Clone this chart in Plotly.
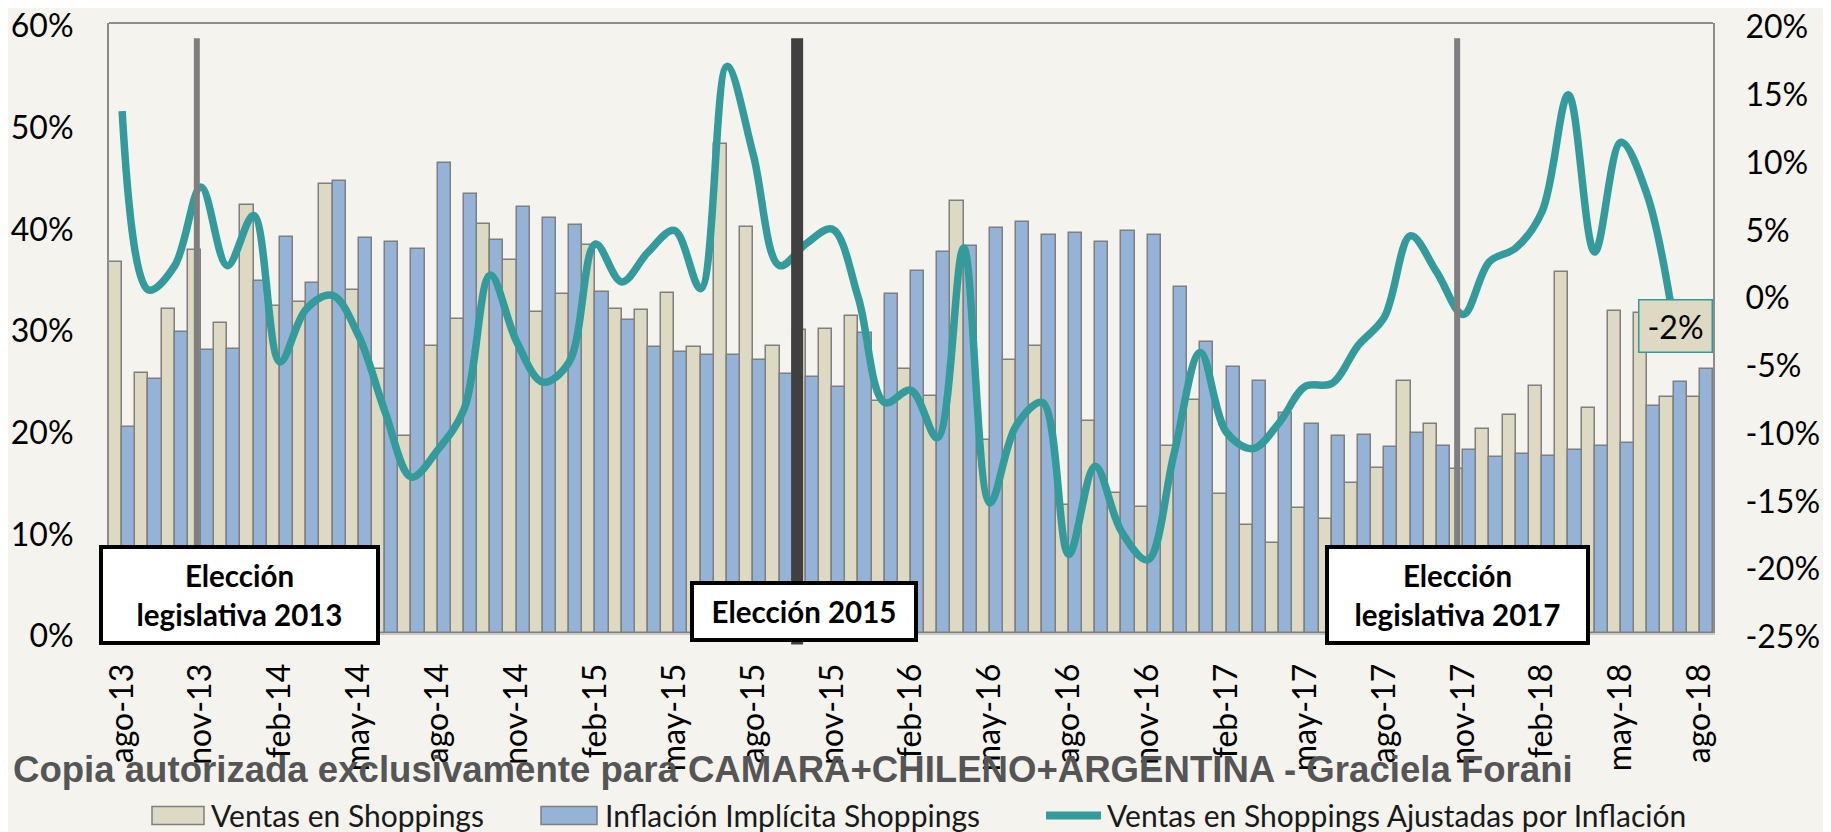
import plotly.graph_objects as go

meses = ["ene", "feb", "mar", "abr", "may", "jun", "jul", "ago", "sep", "oct", "nov", "dic"]
categorias = []
for k in range(61):
    m = (7 + k) % 12
    a = 13 + (7 + k) // 12
    categorias.append(f"{meses[m]}-{a}")

ventas = [36.5, 25.6, 31.9, 37.7, 30.5, 42.1, 32.2, 32.6, 44.2, 33.7,
          26.0, 19.4, 28.2, 30.9, 40.2, 36.7, 31.6, 33.3, 38.2, 31.9,
          31.8, 33.4, 28.1, 48.1, 39.9, 28.2, 29.8, 29.9, 31.2, 22.8,
          26.0, 23.3, 42.5, 19.0, 26.9, 28.2, 12.6, 20.9, 13.8, 12.4,
          18.4, 22.9, 13.7, 10.6, 8.9, 12.3, 11.2, 14.8, 16.2, 24.8,
          20.6, 16.1, 20.1, 21.4, 24.3, 35.5, 22.1, 31.7, 31.5, 23.2,
          23.2]

inflacion = [20.3, 25.0, 29.6, 27.8, 27.9, 34.6, 39.0, 34.4, 44.5, 38.9,
             38.5, 37.8, 46.2, 43.2, 38.7, 41.9, 40.8, 40.1, 33.5, 30.8,
             28.1, 27.6, 27.3, 27.3, 26.9, 25.5, 25.2, 24.2, 29.5, 33.3,
             35.6, 37.5, 38.1, 39.8, 40.4, 39.1, 39.3, 38.5, 39.5, 39.1,
             34.0, 28.6, 26.2, 24.8, 21.6, 20.6, 19.4, 19.5, 18.3, 19.7,
             18.4, 18.0, 17.3, 17.6, 17.4, 18.0, 18.4, 18.7, 22.3, 24.7,
             26.0]

ajustadas = [13.5, 0.3, 2.1, 7.9, 2.1, 5.8, -5.0, -1.1, -0.1, -3.1,
             -8.7, -13.5, -11.5, -8.5, 1.4, -3.5, -6.5, -5.0, 3.7, 0.9,
             3.1, 4.7, 0.4, 16.8, 10.3, 2.1, 3.7, 4.8, -0.3, -8.0,
             -7.1, -10.6, 3.4, -15.4, -9.7, -8.0, -19.2, -12.7, -17.5, -19.6,
             -11.8, -4.3, -10.2, -11.4, -9.5, -6.8, -6.6, -3.8, -1.7, 4.3,
             1.6, -1.5, 2.4, 3.4, 6.1, 14.7, 3.1, 11.2, 7.3, -2.0]

tick_labels = categorias[::3]
y_left_ticks = [0, 10, 20, 30, 40, 50, 60]
y_right_ticks = [-25, -20, -15, -10, -5, 0, 5, 10, 15, 20]

elecciones = ["Elección<br>legislativa 2013", "Elección 2015", "Elección<br>legislativa 2017"]
eleccion_x = [2.84, 25.67, 50.77]

BG = "#F4F3EE"
BEIGE = "#DDD9C3"
BLUE = "#95B3D7"
TEAL = "#339B9B"
EDGE = "#7F7F7F"
FONT = "Lato"

# page offset (body margin) compensation: figure drawn at (8, 8) in the window
OFF = 8
W, H = 1831 - OFF, 832 - OFF
PL, PR, PT, PB = 109, 1713, 23.3, 633.5   # plot area in window pixels
ML, MR, MT, MB = PL - OFF, W - (PR - OFF), PT - OFF, H - (PB - OFF)
PW = PR - PL
PH = PB - PT


def px(x):
    return (x - PL) / PW


def py(y):
    return (PB - y) / PH


fig = go.Figure()
fig.add_trace(go.Bar(x=categorias, y=ventas, name="Ventas en Shoppings",
                     marker=dict(color=BEIGE, line=dict(color=EDGE, width=1.5)),
                     showlegend=False))
fig.add_trace(go.Bar(x=categorias, y=inflacion, name="Inflación Implícita Shoppings",
                     marker=dict(color=BLUE, line=dict(color=EDGE, width=1.5)),
                     showlegend=False))
fig.add_trace(go.Scatter(x=categorias[:len(ajustadas)], y=ajustadas, yaxis="y2",
                         name="Ventas en Shoppings Ajustadas por Inflación",
                         mode="lines", line=dict(color=TEAL, width=7.5, shape="spline", smoothing=1.0),
                         showlegend=False))

shapes = []
shapes.append(dict(type="line", xref="paper", yref="paper", x0=0, x1=1, y0=1, y1=1,
                   line=dict(color="#8C8C8C", width=2)))
line_styles = [("#7F7F7F", 6, 0.0), ("#404040", 12, -0.019), ("#7F7F7F", 6, 0.0)]
for xv, (col, wd, yb) in zip(eleccion_x, line_styles):
    shapes.append(dict(type="line", xref="x", yref="paper", x0=xv, x1=xv, y0=yb, y1=0.975,
                       line=dict(color=col, width=wd), layer="above"))

# legend (manual, below the chart)
ly0, ly1 = py(825), py(807)
shapes.append(dict(type="rect", xref="paper", yref="paper", x0=px(152), x1=px(204), y0=ly0, y1=ly1,
                   fillcolor=BEIGE, line=dict(color=EDGE, width=1.5)))
shapes.append(dict(type="rect", xref="paper", yref="paper", x0=px(541), x1=px(597), y0=ly0, y1=ly1,
                   fillcolor=BLUE, line=dict(color=EDGE, width=1.5)))
shapes.append(dict(type="line", xref="paper", yref="paper", x0=px(1046), x1=px(1101), y0=py(816), y1=py(816),
                   line=dict(color=TEAL, width=8)))

annotations = []
box_specs = [(239.5, 595, 273, 92), (804, 612, 220, 53), (1457.5, 595, 257, 92)]
for txt, (cx, cy, bw, bh) in zip(elecciones, box_specs):
    annotations.append(dict(text=f"<b>{txt}</b>", xref="paper", yref="paper", x=px(cx), y=py(cy),
                            xanchor="center", yanchor="middle", showarrow=False,
                            bgcolor="white", bordercolor="black", borderwidth=4, borderpad=0,
                            width=bw, height=bh, font=dict(family=FONT, size=29.5, color="black")))

annotations.append(dict(text="-2%", xref="x", yref="y2", x=59, y=ajustadas[-1], showarrow=False,
                        xanchor="center", yanchor="middle", bgcolor=BEIGE, bordercolor=TEAL,
                        borderwidth=1.5, borderpad=0, width=72, height=51, xshift=2, yshift=-5,
                        font=dict(family=FONT, size=32, color="black")))

annotations.append(dict(text="<b>Copia autorizada exclusivamente para CAMARA+CHILENO+ARGENTINA - Graciela Forani</b>",
                        xref="paper", yref="paper", x=px(11), y=py(770), xanchor="left", yanchor="middle",
                        showarrow=False, font=dict(family="Liberation Sans", size=36.6, color="#555555")))

leg_texts = [("Ventas en Shoppings", 209), ("Inflación Implícita Shoppings", 603),
             ("Ventas en Shoppings Ajustadas por Inflación", 1105)]
for t, xx in leg_texts:
    annotations.append(dict(text=t, xref="paper", yref="paper", x=px(xx), y=py(816), xanchor="left",
                            yanchor="middle", showarrow=False, font=dict(family=FONT, size=30, color="#1A1A1A")))

fig.update_layout(
    width=W, height=H,
    margin=dict(l=ML, r=MR, t=MT, b=MB, autoexpand=False),
    paper_bgcolor=BG, plot_bgcolor=BG,
    barmode="group", bargap=0, bargroupgap=0,
    font=dict(family=FONT, color="black"),
    xaxis=dict(type="category", categoryorder="array", categoryarray=categorias,
               range=[-0.5, 60.5], tickmode="array", tickvals=tick_labels, ticktext=tick_labels,
               tickangle=-90, tickfont=dict(family=FONT, size=32, color="black"),
               showgrid=False, zeroline=False, showline=True, linecolor="#C8C8C8", linewidth=2,
               ticks="", ticklabelstandoff=16, automargin=False, ticklabeloverflow="allow"),
    yaxis=dict(range=[0, 60], tickmode="array", tickvals=y_left_ticks,
               ticktext=[f"{v}%" for v in y_left_ticks],
               tickfont=dict(family=FONT, size=32, color="black"),
               showgrid=False, zeroline=False, showline=True, linecolor="#8C8C8C", linewidth=2,
               ticks="", ticklabelstandoff=27, ticklabelshift=3, automargin=False,
               ticklabeloverflow="allow"),
    yaxis2=dict(range=[-25, 20], tickmode="array", tickvals=y_right_ticks,
                ticktext=[f"{v}%" for v in y_right_ticks], overlaying="y", side="right",
                tickfont=dict(family=FONT, size=32, color="black"),
                showgrid=False, zeroline=False, showline=True, linecolor="#8C8C8C", linewidth=2,
                ticks="", ticklabelstandoff=24, ticklabelshift=4, automargin=False,
                ticklabeloverflow="allow"),
    shapes=shapes,
    annotations=annotations,
    showlegend=False,
)

fig.write_html("out.html")
